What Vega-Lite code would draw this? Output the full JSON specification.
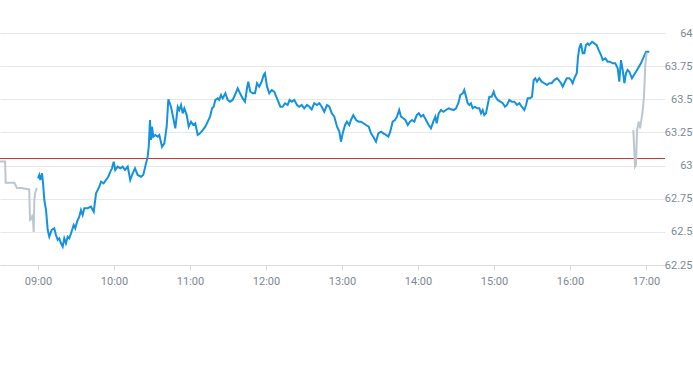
{
  "$schema": "https://vega.github.io/schema/vega-lite/v6.json",
  "width": 665,
  "height": 232,
  "autosize": {"type": "none"},
  "padding": {"left": 0, "top": 33, "right": 28, "bottom": 100},
  "background": "white",
  "config": {
    "view": {"stroke": null},
    "axis": {"labelFont": "Roboto", "labelFontSize": 11, "labelColor": "#7d8894", "title": null}
  },
  "datasets": {
    "pre": [
      {"t": "2024-01-02T08:30:00", "v": 63.03},
      {"t": "2024-01-02T08:34:00", "v": 63.03},
      {"t": "2024-01-02T08:34:30", "v": 62.87},
      {"t": "2024-01-02T08:41:20", "v": 62.87},
      {"t": "2024-01-02T08:43:25", "v": 62.83},
      {"t": "2024-01-02T08:46:35", "v": 62.83},
      {"t": "2024-01-02T08:53:05", "v": 62.82},
      {"t": "2024-01-02T08:53:40", "v": 62.59},
      {"t": "2024-01-02T08:55:00", "v": 62.60},
      {"t": "2024-01-02T08:55:50", "v": 62.63},
      {"t": "2024-01-02T08:56:35", "v": 62.50},
      {"t": "2024-01-02T08:57:05", "v": 62.74},
      {"t": "2024-01-02T08:57:55", "v": 62.80},
      {"t": "2024-01-02T08:59:10", "v": 62.83}
    ],
    "main": [
      {"t": "2024-01-02T09:00:00", "v": 62.904},
      {"t": "2024-01-02T09:01:00", "v": 62.929},
      {"t": "2024-01-02T09:01:50", "v": 62.891},
      {"t": "2024-01-02T09:03:10", "v": 62.942},
      {"t": "2024-01-02T09:04:00", "v": 62.866},
      {"t": "2024-01-02T09:05:00", "v": 62.740},
      {"t": "2024-01-02T09:06:20", "v": 62.665},
      {"t": "2024-01-02T09:07:40", "v": 62.514},
      {"t": "2024-01-02T09:08:55", "v": 62.463},
      {"t": "2024-01-02T09:10:50", "v": 62.514},
      {"t": "2024-01-02T09:12:50", "v": 62.527},
      {"t": "2024-01-02T09:14:10", "v": 62.476},
      {"t": "2024-01-02T09:15:35", "v": 62.439},
      {"t": "2024-01-02T09:16:50", "v": 62.451},
      {"t": "2024-01-02T09:18:10", "v": 62.414},
      {"t": "2024-01-02T09:19:30", "v": 62.388},
      {"t": "2024-01-02T09:20:45", "v": 62.451},
      {"t": "2024-01-02T09:22:05", "v": 62.414},
      {"t": "2024-01-02T09:23:25", "v": 62.463},
      {"t": "2024-01-02T09:24:40", "v": 62.451},
      {"t": "2024-01-02T09:26:05", "v": 62.489},
      {"t": "2024-01-02T09:28:10", "v": 62.552},
      {"t": "2024-01-02T09:29:25", "v": 62.527},
      {"t": "2024-01-02T09:30:50", "v": 62.577},
      {"t": "2024-01-02T09:32:35", "v": 62.614},
      {"t": "2024-01-02T09:33:55", "v": 62.665},
      {"t": "2024-01-02T09:35:15", "v": 62.627},
      {"t": "2024-01-02T09:36:35", "v": 62.678},
      {"t": "2024-01-02T09:39:15", "v": 62.678},
      {"t": "2024-01-02T09:41:50", "v": 62.690},
      {"t": "2024-01-02T09:44:00", "v": 62.652},
      {"t": "2024-01-02T09:45:50", "v": 62.791},
      {"t": "2024-01-02T09:48:25", "v": 62.841},
      {"t": "2024-01-02T09:49:45", "v": 62.878},
      {"t": "2024-01-02T09:51:50", "v": 62.866},
      {"t": "2024-01-02T09:53:40", "v": 62.891},
      {"t": "2024-01-02T09:55:30", "v": 62.916},
      {"t": "2024-01-02T09:57:05", "v": 62.954},
      {"t": "2024-01-02T09:58:25", "v": 62.979},
      {"t": "2024-01-02T09:59:45", "v": 63.029},
      {"t": "2024-01-02T10:01:00", "v": 62.967},
      {"t": "2024-01-02T10:02:55", "v": 62.992},
      {"t": "2024-01-02T10:05:00", "v": 62.979},
      {"t": "2024-01-02T10:06:50", "v": 62.992},
      {"t": "2024-01-02T10:08:40", "v": 62.967},
      {"t": "2024-01-02T10:10:50", "v": 62.992},
      {"t": "2024-01-02T10:12:50", "v": 62.891},
      {"t": "2024-01-02T10:14:45", "v": 62.942},
      {"t": "2024-01-02T10:16:35", "v": 62.979},
      {"t": "2024-01-02T10:18:40", "v": 62.929},
      {"t": "2024-01-02T10:21:20", "v": 62.916},
      {"t": "2024-01-02T10:23:05", "v": 62.929},
      {"t": "2024-01-02T10:24:40", "v": 62.992},
      {"t": "2024-01-02T10:26:35", "v": 63.067},
      {"t": "2024-01-02T10:27:25", "v": 63.142},
      {"t": "2024-01-02T10:28:25", "v": 63.344},
      {"t": "2024-01-02T10:29:10", "v": 63.193},
      {"t": "2024-01-02T10:30:00", "v": 63.293},
      {"t": "2024-01-02T10:31:00", "v": 63.218},
      {"t": "2024-01-02T10:32:35", "v": 63.231},
      {"t": "2024-01-02T10:34:30", "v": 63.218},
      {"t": "2024-01-02T10:35:45", "v": 63.231},
      {"t": "2024-01-02T10:37:55", "v": 63.142},
      {"t": "2024-01-02T10:39:45", "v": 63.168},
      {"t": "2024-01-02T10:41:35", "v": 63.293},
      {"t": "2024-01-02T10:42:55", "v": 63.500},
      {"t": "2024-01-02T10:45:00", "v": 63.444},
      {"t": "2024-01-02T10:47:05", "v": 63.344},
      {"t": "2024-01-02T10:48:25", "v": 63.281},
      {"t": "2024-01-02T10:50:20", "v": 63.444},
      {"t": "2024-01-02T10:51:35", "v": 63.419},
      {"t": "2024-01-02T10:52:55", "v": 63.457},
      {"t": "2024-01-02T10:54:15", "v": 63.394},
      {"t": "2024-01-02T10:55:30", "v": 63.432},
      {"t": "2024-01-02T10:57:25", "v": 63.381},
      {"t": "2024-01-02T10:59:00", "v": 63.293},
      {"t": "2024-01-02T11:00:50", "v": 63.331},
      {"t": "2024-01-02T11:02:35", "v": 63.306},
      {"t": "2024-01-02T11:04:10", "v": 63.319},
      {"t": "2024-01-02T11:06:05", "v": 63.231},
      {"t": "2024-01-02T11:07:55", "v": 63.243},
      {"t": "2024-01-02T11:10:00", "v": 63.268},
      {"t": "2024-01-02T11:12:05", "v": 63.293},
      {"t": "2024-01-02T11:14:00", "v": 63.331},
      {"t": "2024-01-02T11:15:50", "v": 63.369},
      {"t": "2024-01-02T11:17:25", "v": 63.432},
      {"t": "2024-01-02T11:18:40", "v": 63.444},
      {"t": "2024-01-02T11:20:00", "v": 63.495},
      {"t": "2024-01-02T11:21:55", "v": 63.507},
      {"t": "2024-01-02T11:23:05", "v": 63.495},
      {"t": "2024-01-02T11:24:30", "v": 63.532},
      {"t": "2024-01-02T11:25:50", "v": 63.507},
      {"t": "2024-01-02T11:27:55", "v": 63.545},
      {"t": "2024-01-02T11:29:45", "v": 63.495},
      {"t": "2024-01-02T11:31:35", "v": 63.482},
      {"t": "2024-01-02T11:33:40", "v": 63.495},
      {"t": "2024-01-02T11:35:30", "v": 63.532},
      {"t": "2024-01-02T11:37:40", "v": 63.583},
      {"t": "2024-01-02T11:39:30", "v": 63.545},
      {"t": "2024-01-02T11:41:35", "v": 63.507},
      {"t": "2024-01-02T11:43:25", "v": 63.482},
      {"t": "2024-01-02T11:45:00", "v": 63.583},
      {"t": "2024-01-02T11:46:00", "v": 63.633},
      {"t": "2024-01-02T11:47:35", "v": 63.557},
      {"t": "2024-01-02T11:49:30", "v": 63.545},
      {"t": "2024-01-02T11:51:20", "v": 63.545},
      {"t": "2024-01-02T11:52:55", "v": 63.621},
      {"t": "2024-01-02T11:54:40", "v": 63.595},
      {"t": "2024-01-02T11:56:35", "v": 63.633},
      {"t": "2024-01-02T11:58:10", "v": 63.683},
      {"t": "2024-01-02T11:59:10", "v": 63.696},
      {"t": "2024-01-02T12:00:50", "v": 63.595},
      {"t": "2024-01-02T12:02:35", "v": 63.545},
      {"t": "2024-01-02T12:04:30", "v": 63.570},
      {"t": "2024-01-02T12:06:30", "v": 63.557},
      {"t": "2024-01-02T12:08:40", "v": 63.507},
      {"t": "2024-01-02T12:11:20", "v": 63.444},
      {"t": "2024-01-02T12:13:10", "v": 63.444},
      {"t": "2024-01-02T12:15:00", "v": 63.470},
      {"t": "2024-01-02T12:17:05", "v": 63.457},
      {"t": "2024-01-02T12:18:40", "v": 63.495},
      {"t": "2024-01-02T12:20:20", "v": 63.482},
      {"t": "2024-01-02T12:22:20", "v": 63.495},
      {"t": "2024-01-02T12:24:30", "v": 63.457},
      {"t": "2024-01-02T12:26:20", "v": 63.444},
      {"t": "2024-01-02T12:28:10", "v": 63.457},
      {"t": "2024-01-02T12:30:10", "v": 63.432},
      {"t": "2024-01-02T12:32:20", "v": 63.457},
      {"t": "2024-01-02T12:34:10", "v": 63.444},
      {"t": "2024-01-02T12:36:05", "v": 63.424},
      {"t": "2024-01-02T12:38:05", "v": 63.470},
      {"t": "2024-01-02T12:40:15", "v": 63.457},
      {"t": "2024-01-02T12:42:05", "v": 63.470},
      {"t": "2024-01-02T12:44:00", "v": 63.444},
      {"t": "2024-01-02T12:46:00", "v": 63.406},
      {"t": "2024-01-02T12:48:10", "v": 63.457},
      {"t": "2024-01-02T12:50:00", "v": 63.444},
      {"t": "2024-01-02T12:51:55", "v": 63.394},
      {"t": "2024-01-02T12:53:55", "v": 63.369},
      {"t": "2024-01-02T12:56:05", "v": 63.293},
      {"t": "2024-01-02T12:57:55", "v": 63.256},
      {"t": "2024-01-02T12:59:10", "v": 63.180},
      {"t": "2024-01-02T13:00:35", "v": 63.243},
      {"t": "2024-01-02T13:02:25", "v": 63.306},
      {"t": "2024-01-02T13:03:55", "v": 63.331},
      {"t": "2024-01-02T13:05:45", "v": 63.306},
      {"t": "2024-01-02T13:07:05", "v": 63.344},
      {"t": "2024-01-02T13:08:55", "v": 63.381},
      {"t": "2024-01-02T13:11:05", "v": 63.344},
      {"t": "2024-01-02T13:13:10", "v": 63.331},
      {"t": "2024-01-02T13:15:00", "v": 63.331},
      {"t": "2024-01-02T13:16:50", "v": 63.319},
      {"t": "2024-01-02T13:18:55", "v": 63.306},
      {"t": "2024-01-02T13:21:05", "v": 63.293},
      {"t": "2024-01-02T13:22:55", "v": 63.243},
      {"t": "2024-01-02T13:24:40", "v": 63.218},
      {"t": "2024-01-02T13:26:50", "v": 63.180},
      {"t": "2024-01-02T13:28:40", "v": 63.243},
      {"t": "2024-01-02T13:30:50", "v": 63.256},
      {"t": "2024-01-02T13:32:35", "v": 63.243},
      {"t": "2024-01-02T13:34:45", "v": 63.231},
      {"t": "2024-01-02T13:36:35", "v": 63.218},
      {"t": "2024-01-02T13:38:05", "v": 63.256},
      {"t": "2024-01-02T13:40:00", "v": 63.331},
      {"t": "2024-01-02T13:41:50", "v": 63.344},
      {"t": "2024-01-02T13:43:25", "v": 63.369},
      {"t": "2024-01-02T13:45:10", "v": 63.419},
      {"t": "2024-01-02T13:46:35", "v": 63.369},
      {"t": "2024-01-02T13:48:25", "v": 63.357},
      {"t": "2024-01-02T13:50:00", "v": 63.344},
      {"t": "2024-01-02T13:51:55", "v": 63.306},
      {"t": "2024-01-02T13:53:40", "v": 63.331},
      {"t": "2024-01-02T13:55:15", "v": 63.344},
      {"t": "2024-01-02T13:57:05", "v": 63.331},
      {"t": "2024-01-02T13:59:00", "v": 63.381},
      {"t": "2024-01-02T14:00:35", "v": 63.394},
      {"t": "2024-01-02T14:02:25", "v": 63.369},
      {"t": "2024-01-02T14:04:10", "v": 63.381},
      {"t": "2024-01-02T14:06:20", "v": 63.344},
      {"t": "2024-01-02T14:08:25", "v": 63.306},
      {"t": "2024-01-02T14:10:15", "v": 63.281},
      {"t": "2024-01-02T14:12:05", "v": 63.331},
      {"t": "2024-01-02T14:13:40", "v": 63.369},
      {"t": "2024-01-02T14:14:45", "v": 63.319},
      {"t": "2024-01-02T14:16:20", "v": 63.394},
      {"t": "2024-01-02T14:18:10", "v": 63.419},
      {"t": "2024-01-02T14:20:00", "v": 63.406},
      {"t": "2024-01-02T14:22:05", "v": 63.419},
      {"t": "2024-01-02T14:24:15", "v": 63.432},
      {"t": "2024-01-02T14:26:05", "v": 63.425},
      {"t": "2024-01-02T14:28:10", "v": 63.419},
      {"t": "2024-01-02T14:30:00", "v": 63.432},
      {"t": "2024-01-02T14:31:50", "v": 63.470},
      {"t": "2024-01-02T14:33:25", "v": 63.532},
      {"t": "2024-01-02T14:35:20", "v": 63.545},
      {"t": "2024-01-02T14:36:30", "v": 63.570},
      {"t": "2024-01-02T14:37:55", "v": 63.520},
      {"t": "2024-01-02T14:39:15", "v": 63.470},
      {"t": "2024-01-02T14:40:30", "v": 63.457},
      {"t": "2024-01-02T14:41:50", "v": 63.470},
      {"t": "2024-01-02T14:43:10", "v": 63.432},
      {"t": "2024-01-02T14:45:00", "v": 63.444},
      {"t": "2024-01-02T14:46:35", "v": 63.432},
      {"t": "2024-01-02T14:48:25", "v": 63.432},
      {"t": "2024-01-02T14:49:45", "v": 63.394},
      {"t": "2024-01-02T14:51:05", "v": 63.419},
      {"t": "2024-01-02T14:52:20", "v": 63.381},
      {"t": "2024-01-02T14:53:40", "v": 63.394},
      {"t": "2024-01-02T14:55:00", "v": 63.457},
      {"t": "2024-01-02T14:56:20", "v": 63.520},
      {"t": "2024-01-02T14:58:10", "v": 63.520},
      {"t": "2024-01-02T14:59:45", "v": 63.557},
      {"t": "2024-01-02T15:01:00", "v": 63.520},
      {"t": "2024-01-02T15:02:55", "v": 63.495},
      {"t": "2024-01-02T15:05:00", "v": 63.482},
      {"t": "2024-01-02T15:06:55", "v": 63.470},
      {"t": "2024-01-02T15:08:40", "v": 63.444},
      {"t": "2024-01-02T15:10:15", "v": 63.457},
      {"t": "2024-01-02T15:12:05", "v": 63.495},
      {"t": "2024-01-02T15:14:00", "v": 63.482},
      {"t": "2024-01-02T15:16:00", "v": 63.482},
      {"t": "2024-01-02T15:18:10", "v": 63.457},
      {"t": "2024-01-02T15:20:00", "v": 63.470},
      {"t": "2024-01-02T15:21:55", "v": 63.444},
      {"t": "2024-01-02T15:23:55", "v": 63.419},
      {"t": "2024-01-02T15:25:20", "v": 63.457},
      {"t": "2024-01-02T15:26:35", "v": 63.507},
      {"t": "2024-01-02T15:28:25", "v": 63.507},
      {"t": "2024-01-02T15:30:00", "v": 63.520},
      {"t": "2024-01-02T15:31:20", "v": 63.645},
      {"t": "2024-01-02T15:32:35", "v": 63.658},
      {"t": "2024-01-02T15:33:55", "v": 63.633},
      {"t": "2024-01-02T15:35:45", "v": 63.658},
      {"t": "2024-01-02T15:37:40", "v": 63.633},
      {"t": "2024-01-02T15:39:40", "v": 63.621},
      {"t": "2024-01-02T15:41:50", "v": 63.608},
      {"t": "2024-01-02T15:43:40", "v": 63.621},
      {"t": "2024-01-02T15:45:30", "v": 63.621},
      {"t": "2024-01-02T15:47:35", "v": 63.645},
      {"t": "2024-01-02T15:49:45", "v": 63.658},
      {"t": "2024-01-02T15:51:05", "v": 63.645},
      {"t": "2024-01-02T15:52:55", "v": 63.621},
      {"t": "2024-01-02T15:54:15", "v": 63.595},
      {"t": "2024-01-02T15:55:30", "v": 63.621},
      {"t": "2024-01-02T15:57:25", "v": 63.658},
      {"t": "2024-01-02T15:59:25", "v": 63.658},
      {"t": "2024-01-02T16:00:50", "v": 63.645},
      {"t": "2024-01-02T16:02:05", "v": 63.621},
      {"t": "2024-01-02T16:03:25", "v": 63.658},
      {"t": "2024-01-02T16:05:20", "v": 63.696},
      {"t": "2024-01-02T16:06:20", "v": 63.821},
      {"t": "2024-01-02T16:07:20", "v": 63.885},
      {"t": "2024-01-02T16:08:40", "v": 63.922},
      {"t": "2024-01-02T16:10:00", "v": 63.847},
      {"t": "2024-01-02T16:11:20", "v": 63.847},
      {"t": "2024-01-02T16:12:35", "v": 63.909},
      {"t": "2024-01-02T16:14:00", "v": 63.922},
      {"t": "2024-01-02T16:15:10", "v": 63.909},
      {"t": "2024-01-02T16:17:25", "v": 63.934},
      {"t": "2024-01-02T16:19:10", "v": 63.922},
      {"t": "2024-01-02T16:21:05", "v": 63.909},
      {"t": "2024-01-02T16:22:35", "v": 63.872},
      {"t": "2024-01-02T16:24:30", "v": 63.834},
      {"t": "2024-01-02T16:25:50", "v": 63.796},
      {"t": "2024-01-02T16:27:55", "v": 63.809},
      {"t": "2024-01-02T16:29:45", "v": 63.784},
      {"t": "2024-01-02T16:31:35", "v": 63.784},
      {"t": "2024-01-02T16:33:40", "v": 63.771},
      {"t": "2024-01-02T16:35:45", "v": 63.771},
      {"t": "2024-01-02T16:37:40", "v": 63.734},
      {"t": "2024-01-02T16:38:55", "v": 63.633},
      {"t": "2024-01-02T16:40:15", "v": 63.796},
      {"t": "2024-01-02T16:41:35", "v": 63.721},
      {"t": "2024-01-02T16:42:55", "v": 63.621},
      {"t": "2024-01-02T16:44:10", "v": 63.696},
      {"t": "2024-01-02T16:45:30", "v": 63.721},
      {"t": "2024-01-02T16:46:50", "v": 63.708},
      {"t": "2024-01-02T16:48:55", "v": 63.658},
      {"t": "2024-01-02T16:52:05", "v": 63.708},
      {"t": "2024-01-02T16:56:00", "v": 63.771},
      {"t": "2024-01-02T17:00:00", "v": 63.859},
      {"t": "2024-01-02T17:02:35", "v": 63.859}
    ],
    "post": [
      {"t": "2024-01-02T16:50:00", "v": 63.268},
      {"t": "2024-01-02T16:51:20", "v": 62.992},
      {"t": "2024-01-02T16:52:05", "v": 63.004},
      {"t": "2024-01-02T16:52:55", "v": 63.268},
      {"t": "2024-01-02T16:54:15", "v": 63.331},
      {"t": "2024-01-02T16:55:20", "v": 63.281},
      {"t": "2024-01-02T16:56:20", "v": 63.344},
      {"t": "2024-01-02T16:57:25", "v": 63.419},
      {"t": "2024-01-02T16:58:25", "v": 63.520},
      {"t": "2024-01-02T16:59:30", "v": 63.771},
      {"t": "2024-01-02T17:00:35", "v": 63.851}
    ],
    "ref": [{"prevClose": 63.053}]
  },
  "layer": [
    {
      "data": {"name": "pre"},
      "mark": {"type": "line", "stroke": "#bcc6cf", "strokeWidth": 2},
      "encoding": {
        "x": {
          "field": "t", "type": "temporal",
          "scale": {"domain": ["2024-01-02T08:30:00", "2024-01-02T17:15:00"]},
          "axis": {
            "format": "%H:%M", "tickCount": 9,
            "grid": false, "domainColor": "#d5dbe1", "tickColor": "#d5dbe1",
            "tickSize": 5, "labelPadding": 5
          }
        },
        "y": {
          "field": "v", "type": "quantitative",
          "scale": {"domain": [62.25, 64], "nice": false, "zero": false},
          "axis": {
            "orient": "right", "values": [62.25, 62.5, 62.75, 63, 63.25, 63.5, 63.75, 64],
            "tickCount": 10,
            "labelExpr": "'' + datum.value", "labelOverlap": false,
            "domain": false, "ticks": false, "grid": true, "gridColor": "#e6e9ec",
            "labelAlign": "right", "labelPadding": 27, "labelBaseline": "middle"
          }
        }
      }
    },
    {
      "data": {"name": "ref"},
      "mark": {"type": "rule", "stroke": "#c0392b", "strokeWidth": 1},
      "encoding": {"y": {"field": "prevClose", "type": "quantitative"}}
    },
    {
      "data": {"name": "main"},
      "mark": {"type": "line", "stroke": "#1592de", "strokeWidth": 2},
      "encoding": {
        "x": {"field": "t", "type": "temporal"},
        "y": {"field": "v", "type": "quantitative"}
      }
    },
    {
      "data": {"name": "post"},
      "mark": {"type": "line", "stroke": "#bcc6cf", "strokeWidth": 2},
      "encoding": {
        "x": {"field": "t", "type": "temporal"},
        "y": {"field": "v", "type": "quantitative"}
      }
    }
  ]
}
